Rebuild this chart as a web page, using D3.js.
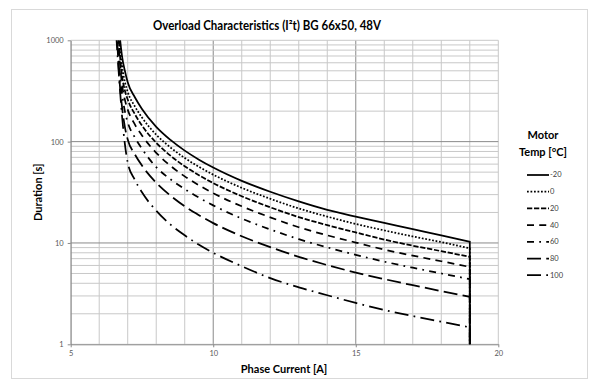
<!DOCTYPE html>
<html>
<head>
<meta charset="utf-8">
<script src="https://cdn.jsdelivr.net/npm/d3@7/dist/d3.min.js"></script>
<style>
  body { margin: 0; background: #fff; }
  text { font-family: Lato, "Liberation Sans", sans-serif; }
</style>
</head>
<body>
<svg id="chart" width="595" height="382"></svg>
<script>
// phase current [A] where each curve was read
const currents = [6.6, 6.7, 6.8, 6.9, 7, 7.25, 7.5, 8, 8.5, 9, 9.5, 10, 11, 12, 13, 14, 15, 16, 17, 18, 19];

// duration [s] per motor temperature
const durM20 = [4000, 1300, 700, 500, 385, 274, 210, 140, 104, 81.5, 66.4, 55.5, 41, 32, 25.7, 21.2, 18.2, 15.8, 13.7, 11.9, 10.3];
const dur0   = [3500, 1100, 560, 390, 309, 223, 173, 117, 87.6, 69, 56.4, 47.2, 35, 27.3, 21.9, 18.2, 15.4, 13.3, 11.6, 10.2, 8.85];
const dur20  = [3000, 900, 450, 320, 260, 187, 144, 97.6, 72.7, 57.1, 46.6, 39, 28.9, 22.5, 18, 15, 12.7, 10.8, 9.4, 8.3, 7.3];
const dur40  = [2500, 750, 370, 260, 207, 148, 115, 77.6, 57.7, 45.4, 37.1, 31, 23, 17.9, 14.3, 11.9, 10.1, 8.6, 7.5, 6.6, 5.8];
const dur60  = [2000, 600, 300, 200, 155, 110, 85, 56, 42.5, 34, 28, 23.5, 17.4, 13.6, 10.9, 9.05, 7.64, 6.54, 5.7, 5, 4.4];
const dur80  = [1500, 450, 220, 140, 105, 75, 58, 39.3, 29.3, 23, 18.8, 15.7, 11.65, 9.1, 7.3, 6.05, 5.1, 4.4, 3.83, 3.35, 2.94];
const dur100 = [1100, 420, 180, 95, 62, 42, 31.6, 20.8, 15.2, 11.9, 9.6, 8, 5.9, 4.5, 3.65, 3.05, 2.56, 2.18, 1.9, 1.67, 1.47];

// every curve drops to zero at the cut-off current
const cutoffCurrent = 19;
const cutoffDuration = 0.1;

const tempLabels = ['-20', '0', '20', '40', '60', '80', '100'];
const xTickValues = [5, 10, 15, 20];
const yTickValues = [1, 10, 100, 1000];

const durations = [durM20, dur0, dur20, dur40, dur60, dur80, dur100];

// line width and dash pattern, Excel style
const lw = 1.75;
const dashes = [
  null,
  `${lw},${lw}`,
  `${3 * lw},${lw}`,
  `${4 * lw},${3 * lw}`,
  `${4 * lw},${3 * lw},${lw},${3 * lw}`,
  `${8 * lw},${3 * lw}`,
  `${8 * lw},${3 * lw},${lw},${3 * lw}`
];

const svg = d3.select('#chart');

const plotLeft = 70.7, plotRight = 498.3, plotTop = 40.3, plotBottom = 344.3;

const x = d3.scaleLinear().domain([5, 20]).range([plotLeft, plotRight]);
const y = d3.scaleLog().domain([1, 1000]).range([plotBottom, plotTop]);

// chart border
svg.append('rect')
  .attr('x', 11.5).attr('y', 9.5)
  .attr('width', 576).attr('height', 369)
  .attr('fill', 'none')
  .attr('stroke', '#d9d9d9');

// title
svg.append('text')
  .attr('x', 267).attr('y', 29.5)
  .attr('text-anchor', 'middle')
  .attr('font-size', 12.5)
  .attr('font-weight', 'bold')
  .attr('fill', '#000')
  .attr('textLength', 228)
  .attr('lengthAdjust', 'spacingAndGlyphs')
  .text('Overload Characteristics (I²t) BG 66x50, 48V');

// grid
const grid = svg.append('g');

grid.selectAll('line.vx')
  .data(d3.range(5, 21))
  .enter().append('line')
  .attr('x1', d => x(d)).attr('x2', d => x(d))
  .attr('y1', plotTop).attr('y2', plotBottom)
  .attr('stroke', d => (d % 5 === 0 && d !== 5 && d !== 20) ? '#8a8a8a' : '#c8c8c8')
  .attr('stroke-width', 1);

grid.selectAll('line.hy')
  .data(y.ticks())
  .enter().append('line')
  .attr('x1', plotLeft).attr('x2', plotRight)
  .attr('y1', d => y(d)).attr('y2', d => y(d))
  .attr('stroke', d => (yTickValues.includes(d) && d !== 1 && d !== 1000) ? '#8a8a8a' : '#c8c8c8')
  .attr('stroke-width', 1);

// axes
const xAxis = svg.append('g')
  .attr('transform', `translate(0,${plotBottom})`)
  .call(d3.axisBottom(x).tickValues(xTickValues).tickSize(3).tickSizeOuter(0).tickFormat(d3.format('d')));

const yAxis = svg.append('g')
  .attr('transform', `translate(${plotLeft},0)`)
  .call(d3.axisLeft(y).tickValues(yTickValues).tickSize(3).tickSizeOuter(0).tickFormat(d3.format('d')));

[xAxis, yAxis].forEach(a => {
  a.select('.domain').attr('stroke', '#8a8a8a');
  a.selectAll('.tick line').attr('stroke', '#8a8a8a');
  a.selectAll('.tick text')
    .attr('font-family', 'Lato, "Liberation Sans", sans-serif')
    .attr('font-size', 7.5)
    .attr('fill', '#595959');
});
xAxis.selectAll('.tick text').attr('dy', '0.9em').attr('y', 5);
yAxis.selectAll('.tick text').attr('x', -7);

// axis titles
svg.append('text')
  .attr('x', 284).attr('y', 373)
  .attr('text-anchor', 'middle')
  .attr('font-size', 11)
  .attr('font-weight', 'bold')
  .text('Phase Current [A]');

svg.append('text')
  .attr('transform', `translate(42,${(plotTop + plotBottom) / 2}) rotate(-90)`)
  .attr('text-anchor', 'middle')
  .attr('font-size', 11)
  .attr('font-weight', 'bold')
  .text('Duration [s]');

// curves
svg.append('clipPath').attr('id', 'plotClip')
  .append('rect')
  .attr('x', plotLeft).attr('y', plotTop)
  .attr('width', plotRight - plotLeft).attr('height', plotBottom - plotTop);

const line = d3.line()
  .x(d => x(d[0]))
  .y(d => y(d[1]))
  .curve(d3.curveMonotoneX);

const curves = svg.append('g').attr('clip-path', 'url(#plotClip)');

durations.forEach((vals, i) => {
  const pts = currents.map((c, j) => [c, vals[j]]);
  const d = line(pts) + `L${x(cutoffCurrent)},${y(cutoffDuration)}`;
  curves.append('path')
    .attr('d', d)
    .attr('fill', 'none')
    .attr('stroke', '#000')
    .attr('stroke-width', lw)
    .attr('stroke-dasharray', dashes[i]);
});

// legend
const legend = svg.append('g');
legend.append('text')
  .attr('x', 543).attr('y', 139)
  .attr('text-anchor', 'middle')
  .attr('font-size', 11).attr('font-weight', 'bold')
  .text('Motor');
legend.append('text')
  .attr('x', 543).attr('y', 156)
  .attr('text-anchor', 'middle')
  .attr('font-size', 11).attr('font-weight', 'bold')
  .text('Temp [°C]');

const rows = legend.selectAll('g.row')
  .data(tempLabels)
  .enter().append('g')
  .attr('transform', (d, i) => `translate(0,${175 + i * 16.7})`);

rows.append('line')
  .attr('x1', 527).attr('x2', 549)
  .attr('stroke', '#000')
  .attr('stroke-width', lw)
  .attr('stroke-dasharray', (d, i) => dashes[i]);

rows.append('text')
  .attr('x', 550).attr('y', 0).attr('dy', '0.33em')
  .attr('font-size', 7.5)
  .attr('fill', '#404040')
  .text(d => d);
</script>
</body>
</html>
